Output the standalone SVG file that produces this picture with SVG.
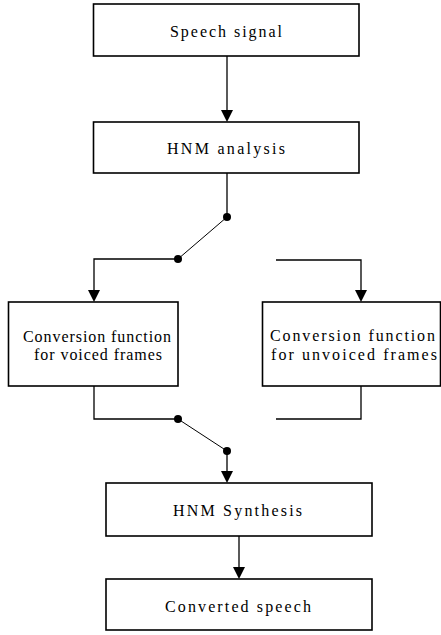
<svg xmlns="http://www.w3.org/2000/svg" width="441" height="635" viewBox="0 0 441 635">
<defs>
<style>
.box{fill:#fff;stroke:#000;stroke-width:1.6}
.ln{fill:none;stroke:#000;stroke-width:1.3}
.sw{fill:none;stroke:#000;stroke-width:1}
.dot{fill:#000}
.arr{fill:#000}
text{font-family:"Times New Roman","Liberation Serif","DejaVu Serif",serif;font-size:16px;fill:#000}
</style>
</defs>
<rect width="441" height="635" fill="#fff"/>
<g id="connectors">
<line class="ln" x1="227" y1="56" x2="227" y2="110"/>
<polygon class="arr" points="221,110 233,110 227,122"/>
<line class="ln" x1="227" y1="173" x2="227" y2="217"/>
<line class="sw" x1="227" y1="217" x2="178" y2="259"/>
<circle class="dot" cx="227" cy="217" r="4"/>
<circle class="dot" cx="178" cy="259" r="4"/>
<polyline class="ln" points="178,259 94,259 94,290"/>
<polygon class="arr" points="88,290 100,290 94,302"/>
<polyline class="ln" points="276,260 361,260 361,290"/>
<polygon class="arr" points="355,290 367,290 361,302"/>
<polyline class="ln" points="94,386 94,419 178,419"/>
<line class="sw" x1="178" y1="419" x2="227" y2="451"/>
<circle class="dot" cx="178" cy="419" r="4"/>
<circle class="dot" cx="227" cy="451" r="4"/>
<line class="ln" x1="227" y1="451" x2="227" y2="471"/>
<polygon class="arr" points="221,471 233,471 227,483"/>
<polyline class="ln" points="361,386 361,419 276,419"/>
<line class="ln" x1="239" y1="536" x2="239" y2="567"/>
<polygon class="arr" points="233,567 245,567 239,579"/>
</g>
<g id="speech-signal">
<rect class="box" x="93.5" y="4" width="265.5" height="52"/>
<text x="170" y="37" textLength="112" lengthAdjust="spacing">Speech signal</text>
</g>
<g id="hnm-analysis">
<rect class="box" x="93.5" y="122" width="265.5" height="51"/>
<text x="167" y="154" textLength="118" lengthAdjust="spacing">HNM analysis</text>
</g>
<g id="conv-voiced">
<rect class="box" x="8.5" y="302" width="169.5" height="84"/>
<text x="23" y="342" textLength="148" lengthAdjust="spacing">Conversion function</text>
<text x="34" y="360" textLength="128" lengthAdjust="spacing">for voiced frames</text>
</g>
<g id="conv-unvoiced">
<rect class="box" x="262.5" y="302" width="178" height="84"/>
<text x="270" y="341" textLength="165" lengthAdjust="spacing">Conversion function</text>
<text x="271" y="360" textLength="166" lengthAdjust="spacing">for unvoiced frames</text>
</g>
<g id="hnm-synthesis">
<rect class="box" x="106" y="483" width="266" height="53"/>
<text x="173" y="516" textLength="129" lengthAdjust="spacing">HNM Synthesis</text>
</g>
<g id="converted-speech">
<rect class="box" x="106" y="579" width="266" height="51"/>
<text x="165" y="612" textLength="146" lengthAdjust="spacing">Converted speech</text>
</g>
</svg>
